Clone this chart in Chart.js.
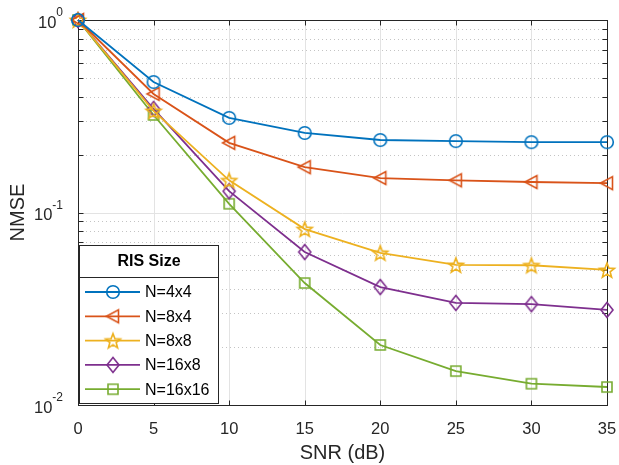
<!DOCTYPE html>
<html>
<head>
<meta charset="utf-8">
<script src="https://cdn.jsdelivr.net/npm/chart.js@4.4.0/dist/chart.umd.min.js"></script>
<style>
  html, body { margin: 0; padding: 0; background: #fff; }
  #wrap { width: 619px; height: 465px; }
</style>
</head>
<body>
<div id="wrap"><canvas id="chart" width="619" height="465"></canvas></div>
<script>
// data
const snr = [0, 5, 10, 15, 20, 25, 30, 35];
const nmse4x4 = [1, 0.476, 0.310, 0.259, 0.238, 0.235, 0.232, 0.232];
const nmse8x4 = [1, 0.413, 0.230, 0.172, 0.151, 0.147, 0.144, 0.142];
const nmse8x8 = [1, 0.337, 0.147, 0.082, 0.0617, 0.0534, 0.0532, 0.0503];
const nmse16x8 = [1, 0.345, 0.129, 0.0623, 0.041, 0.0339, 0.0334, 0.0312];
const nmse16x16 = [1, 0.321, 0.111, 0.043, 0.0205, 0.0150, 0.0129, 0.0124];
const seriesNames = ['N=4x4', 'N=8x4', 'N=8x8', 'N=16x8', 'N=16x16'];
const legendTitle = 'RIS Size';
const xTicks = [0, 5, 10, 15, 20, 25, 30, 35];
const yDecades = [0.01, 0.1, 1];

const colors = ['#0072BD', '#D95319', '#EDB120', '#7E2F8E', '#77AC30'];
const shapes = ['circle', 'triLeft', 'star', 'diamond', 'square'];
const axisColor = '#262626';
const fontFamily = '"Liberation Sans", Arial, Helvetica, sans-serif';

// MATLAB-like hollow markers drawn onto small canvases
function makeMarker(shape, color) {
    const c = document.createElement('canvas');
    c.width = 22; c.height = 22;
    const g = c.getContext('2d');
    g.strokeStyle = color;
    g.lineWidth = 1.6;
    g.lineJoin = 'miter';
    g.beginPath();
    const cx = 11, cy = 11;
    if (shape === 'circle') {
        g.arc(cx, cy, 6.3, 0, Math.PI * 2);
    } else if (shape === 'triLeft') {
        g.moveTo(cx - 6.5, cy);
        g.lineTo(cx + 5.5, cy - 6.5);
        g.lineTo(cx + 5.5, cy + 6.5);
        g.closePath();
    } else if (shape === 'star') {
        const R = 7.8, r = 3.3;
        for (let i = 0; i < 10; i++) {
            const a = -Math.PI / 2 + i * Math.PI / 5;
            const rr = i % 2 === 0 ? R : r;
            const px = cx + rr * Math.cos(a), py = cy + rr * Math.sin(a) + 0.8;
            if (i === 0) g.moveTo(px, py); else g.lineTo(px, py);
        }
        g.closePath();
    } else if (shape === 'diamond') {
        g.moveTo(cx, cy - 7.5);
        g.lineTo(cx + 6, cy);
        g.lineTo(cx, cy + 7.5);
        g.lineTo(cx - 6, cy);
        g.closePath();
    } else if (shape === 'square') {
        g.rect(cx - 5, cy - 5, 10, 10);
    }
    g.stroke();
    return c;
}

const markers = shapes.map((s, i) => makeMarker(s, colors[i]));
const allSeries = [nmse4x4, nmse8x4, nmse8x8, nmse16x8, nmse16x16];

const datasets = allSeries.map((vals, i) => ({
    label: seriesNames[i],
    data: snr.map((x, j) => ({ x: x, y: vals[j] })),
    borderColor: colors[i],
    backgroundColor: colors[i],
    borderWidth: 1.8,
    pointStyle: markers[i],
    pointRadius: 6,
    pointHoverRadius: 6,
    tension: 0,
    clip: false
}));

function minorValues() {
    const out = [];
    for (let d = 0; d < yDecades.length - 1; d++) {
        for (let k = 2; k <= 9; k++) out.push(yDecades[d] * k);
    }
    return out;
}

// grid, box and tick marks, drawn under the data like MATLAB
const axesPlugin = {
    id: 'axesDecor',
    beforeDatasetsDraw(chart) {
        const { ctx, chartArea: a, scales: { x, y } } = chart;
        ctx.save();
        // minor dotted y grid
        ctx.strokeStyle = '#c4c4c4';
        ctx.lineWidth = 1;
        ctx.setLineDash([1, 3]);
        minorValues().forEach(v => {
            const py = Math.round(y.getPixelForValue(v)) + 0.5;
            ctx.beginPath(); ctx.moveTo(a.left, py); ctx.lineTo(a.right, py); ctx.stroke();
        });
        ctx.setLineDash([]);
        // major grid
        ctx.strokeStyle = '#e3e3e3';
        xTicks.forEach(v => {
            const px = Math.round(x.getPixelForValue(v)) + 0.5;
            ctx.beginPath(); ctx.moveTo(px, a.top); ctx.lineTo(px, a.bottom); ctx.stroke();
        });
        yDecades.forEach(v => {
            const py = Math.round(y.getPixelForValue(v)) + 0.5;
            ctx.beginPath(); ctx.moveTo(a.left, py); ctx.lineTo(a.right, py); ctx.stroke();
        });
        // box
        ctx.strokeStyle = axisColor;
        const L = Math.round(a.left) + 0.5, R = Math.round(a.right) + 0.5;
        const T = Math.round(a.top) + 0.5, B = Math.round(a.bottom) + 0.5;
        ctx.strokeRect(L, T, R - L, B - T);
        // tick marks
        const tl = 5;
        ctx.beginPath();
        xTicks.forEach(v => {
            const px = Math.round(x.getPixelForValue(v)) + 0.5;
            ctx.moveTo(px, B); ctx.lineTo(px, B - tl);
            ctx.moveTo(px, T); ctx.lineTo(px, T + tl);
        });
        yDecades.concat(minorValues()).forEach(v => {
            const py = Math.round(y.getPixelForValue(v)) + 0.5;
            ctx.moveTo(L, py); ctx.lineTo(L + tl, py);
            ctx.moveTo(R, py); ctx.lineTo(R - tl, py);
        });
        ctx.stroke();
        ctx.restore();
    },
    afterDraw(chart) {
        const { ctx, chartArea: a, scales: { y } } = chart;
        ctx.save();
        // y tick labels 10^n
        ctx.fillStyle = axisColor;
        ctx.textBaseline = 'middle';
        yDecades.forEach(v => {
            const py = y.getPixelForValue(v);
            const exp = String(Math.round(Math.log10(v)));
            ctx.font = '12px ' + fontFamily;
            const ew = ctx.measureText(exp).width;
            const right = a.left - 15;
            ctx.textAlign = 'left';
            ctx.fillText(exp, right - ew, py - 7);
            ctx.font = '16.5px ' + fontFamily;
            ctx.textAlign = 'right';
            ctx.fillText('10', right - ew, py + 3);
        });

        // legend box in the lower left of the axes
        const bx = 79.5, by = 245.5, bw = 139, bh = 158;
        ctx.fillStyle = '#ffffff';
        ctx.fillRect(bx, by, bw, bh);
        ctx.strokeStyle = axisColor;
        ctx.lineWidth = 1;
        ctx.strokeRect(bx, by, bw, bh);
        ctx.beginPath();
        ctx.moveTo(bx, 277.5); ctx.lineTo(bx + bw, 277.5);
        ctx.stroke();
        ctx.fillStyle = '#000';
        ctx.font = 'bold 16px ' + fontFamily;
        ctx.textAlign = 'center';
        ctx.fillText(legendTitle, bx + bw / 2, 262);
        chart.data.datasets.forEach((ds, i) => {
            const ly = 292 + i * 24.3;
            ctx.strokeStyle = ds.borderColor;
            ctx.lineWidth = ds.borderWidth;
            ctx.beginPath(); ctx.moveTo(85, ly); ctx.lineTo(140, ly); ctx.stroke();
            const m = ds.pointStyle;
            ctx.drawImage(m, 113 - m.width / 2, ly - m.height / 2);
            ctx.fillStyle = '#000';
            ctx.font = '16px ' + fontFamily;
            ctx.textAlign = 'left';
            ctx.fillText(ds.label, 145, ly + 1);
        });
        ctx.restore();
    }
};

new Chart(document.getElementById('chart'), {
    type: 'line',
    data: { datasets: datasets },
    plugins: [axesPlugin],
    options: {
        responsive: false,
        animation: false,
        events: [],
        layout: { padding: { top: 20, right: 0, left: 0, bottom: 0 } },
        plugins: { legend: { display: false }, tooltip: { enabled: false } },
        scales: {
            x: {
                type: 'linear',
                min: 0, max: 35,
                afterBuildTicks: s => { s.ticks = xTicks.map(v => ({ value: v })); },
                afterFit: s => { s.height = 60; s.paddingRight = 12; },
                grid: { display: false, drawTicks: false },
                border: { display: false },
                ticks: {
                    padding: 15,
                    color: axisColor,
                    font: { family: fontFamily, size: 16.5 },
                    maxRotation: 0
                },
                title: {
                    display: true,
                    text: 'SNR (dB)',
                    color: axisColor,
                    font: { family: fontFamily, size: 20 },
                    padding: { top: 0, bottom: 0 }
                }
            },
            y: {
                type: 'logarithmic',
                min: 0.01, max: 1,
                afterFit: s => { s.width = 78; },
                grid: { display: false, drawTicks: false },
                border: { display: false },
                ticks: { display: false },
                title: {
                    display: true,
                    text: 'NMSE',
                    color: axisColor,
                    font: { family: fontFamily, size: 20 },
                    padding: { top: 6, bottom: 0 }
                }
            }
        }
    }
});
</script>
</body>
</html>
